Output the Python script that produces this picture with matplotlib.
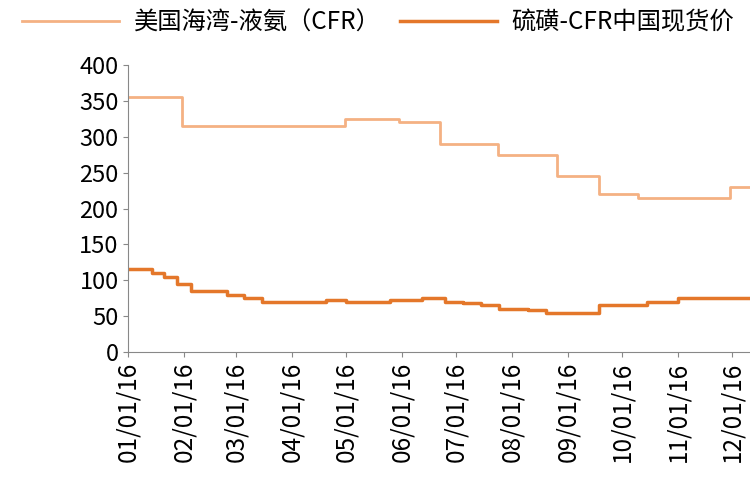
import matplotlib.pyplot as plt
import matplotlib.dates as mdates
import pandas as pd

plt.rcParams['font.family'] = ['Noto Sans CJK SC', 'DejaVu Sans']

ammonia_dates = ['2016-01-01', '2016-01-31', '2016-04-30', '2016-05-30', '2016-06-22',
                 '2016-07-24', '2016-08-26', '2016-09-18', '2016-10-10', '2016-11-30', '2016-12-31']
ammonia_vals = [355, 315, 325, 320, 290, 275, 245, 220, 215, 230, 230]

sulfur_dates = ['2016-01-01', '2016-01-14', '2016-01-21', '2016-01-28', '2016-02-05',
                '2016-02-25', '2016-03-05', '2016-03-15', '2016-04-20', '2016-05-01',
                '2016-05-25', '2016-06-05', '2016-06-12', '2016-06-25', '2016-07-05',
                '2016-07-15', '2016-07-25', '2016-08-10', '2016-08-20', '2016-09-18',
                '2016-10-15', '2016-11-01', '2016-12-31']
sulfur_vals = [115, 110, 105, 95, 85, 80, 75, 70, 72, 70, 73, 72, 75, 70, 68,
               66, 60, 58, 55, 65, 70, 75, 75]

tick_dates = pd.date_range('2016-01-01', '2016-12-01', freq='MS')

fig = plt.figure(figsize=(7.5, 5), dpi=100)
ax = fig.add_axes([0.171, 0.296, 0.829, 0.574])
ax.plot(pd.to_datetime(ammonia_dates), ammonia_vals, drawstyle='steps-post',
        color='#F4B183', lw=2, label='美国海湾-液氨（CFR）')
ax.plot(pd.to_datetime(sulfur_dates), sulfur_vals, drawstyle='steps-post',
        color='#E4772A', lw=2.5, label='硫磺-CFR中国现货价')

ax.set_ylim(0, 400)
ax.set_yticks(range(0, 401, 50))
ax.set_xlim(pd.Timestamp('2016-01-01'), pd.Timestamp('2016-12-11'))
ax.set_xticks(tick_dates)
ax.xaxis.set_major_formatter(mdates.DateFormatter('%m/%d/%y'))
ax.tick_params(axis='x', rotation=90, labelsize=17.5, color='#888888')
ax.tick_params(axis='y', labelsize=17, color='#888888')
for s in ['top', 'right']:
    ax.spines[s].set_visible(False)
for s in ['left', 'bottom']:
    ax.spines[s].set_color('#888888')

fig.legend(loc='upper left', bbox_to_anchor=(0.0, 1.025), ncol=2, frameon=False,
           fontsize=17.5, handlelength=4, columnspacing=0.8, handletextpad=0.6)

fig.savefig('out.png')
